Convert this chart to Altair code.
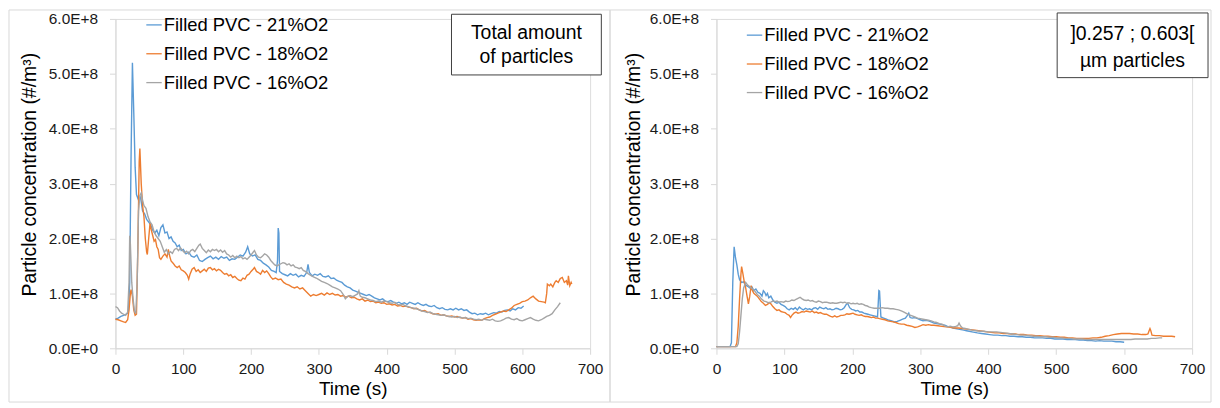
import altair as alt
import pandas as pd

FONT = "Liberation Sans"

SERIES = ["Filled PVC - 21%O2", "Filled PVC - 18%O2", "Filled PVC - 16%O2"]
COLORS = ["#5B9BD5", "#ED7D31", "#A5A5A5"]
X_TICKS = [0, 100, 200, 300, 400, 500, 600, 700]
Y_TICKS_E8 = [0, 1, 2, 3, 4, 5, 6]
X_TITLE = "Time (s)"
Y_TITLE = "Particle concentration (#/m³)"
BOX_LEFT = ["Total amount", "of particles"]
BOX_RIGHT = ["]0.257 ; 0.603[", "µm particles"]

# (time s, concentration in 1E+8 #/m3) - total amount of particles
L21 = [(0,0.53),(4,0.55),(8,0.58),(12,0.6),(16,0.62),(19,0.65),(21,1.2),(23,3.5),(25,5.2),(27,4.3),
       (29,3.3),(31,2.8),(34,2.7),(37,2.75),(40,2.5),(43,2.45),(46,2.35),(49,2.3),(52,2.25),(55,2.15),
       (58,2.1),(61,2.15),(64,2.05),(67,2.2),(70,2.25),(73,2.1),(76,2.12),(79,2.0),(82,2.03),(85,1.95),
       (88,1.92),(91,1.85),(94,1.88),(97,1.78),(100,1.8),(104,1.72),(108,1.75),(112,1.68),(116,1.66),(120,1.7),
       (124,1.6),(128,1.58),(132,1.62),(136,1.65),(140,1.68),(144,1.63),(148,1.66),(152,1.62),(156,1.67),(160,1.64),
       (164,1.66),(168,1.6),(172,1.63),(176,1.62),(180,1.66),(184,1.7),(188,1.68),(192,1.75),(195,1.85),(198,1.72),
       (202,1.68),(206,1.7),(210,1.62),(214,1.6),(218,1.55),(222,1.52),(226,1.48),(230,1.42),(234,1.4),(237,1.38),
       (239,1.6),(240,2.19),(241,2.1),(242,1.4),(246,1.36),(250,1.34),(254,1.32),(258,1.36),(262,1.33),(266,1.35),
       (270,1.3),(274,1.33),(278,1.31),(282,1.38),(284,1.53),(286,1.38),(290,1.32),(294,1.35),(298,1.33),(302,1.36),
       (306,1.31),(310,1.3),(314,1.32),(318,1.27),(322,1.28),(326,1.24),(330,1.22),(334,1.2),(338,1.15),(342,1.12),
       (346,1.1),(350,1.06),(354,1.04),(358,1.02),(362,1.0),(366,0.98),(370,0.96),(374,0.98),(378,0.95),(382,0.92),
       (386,0.9),(390,0.88),(394,0.9),(398,0.86),(402,0.85),(406,0.87),(410,0.84),(414,0.82),(418,0.84),(422,0.81),
       (426,0.83),(430,0.8),(434,0.84),(438,0.82),(442,0.8),(446,0.83),(450,0.8),(454,0.78),(458,0.8),(462,0.77),
       (466,0.76),(470,0.78),(474,0.74),(478,0.72),(482,0.74),(486,0.71),(490,0.7),(494,0.72),(498,0.7),(502,0.73),
       (506,0.7),(510,0.72),(514,0.69),(518,0.7),(522,0.66),(526,0.63),(530,0.64),(534,0.61),(538,0.63),(542,0.62),
       (546,0.64),(550,0.61),(554,0.63),(558,0.65),(562,0.64),(566,0.67),(570,0.66),(574,0.69),(578,0.7),(582,0.68),
       (586,0.72),(590,0.7),(594,0.74),(598,0.73),(602,0.77)]

L18 = [(0,0.53),(4,0.52),(8,0.5),(12,0.48),(15,0.47),(18,0.52),(20,0.7),(22,1.0),(23,1.07),(25,0.95),
       (27,0.7),(29,0.6),(31,0.62),(33,1.8),(35,3.4),(36,3.64),(38,3.0),(40,2.6),(42,2.4),(44,2.0),
       (46,1.75),(47,1.71),(49,2.0),(51,2.28),(53,2.15),(55,2.05),(57,1.95),(59,1.98),(61,1.85),(63,1.8),
       (65,1.65),(67,1.62),(70,1.68),(73,1.72),(76,1.66),(78,1.8),(80,1.68),(82,1.59),(85,1.55),(88,1.5),
       (91,1.47),(94,1.5),(97,1.43),(100,1.41),(103,1.38),(106,1.33),(108,1.26),(110,1.35),(113,1.44),(116,1.47),
       (119,1.4),(122,1.43),(125,1.38),(128,1.41),(131,1.44),(134,1.4),(137,1.46),(140,1.47),(143,1.43),(146,1.45),
       (149,1.41),(152,1.44),(155,1.42),(158,1.38),(161,1.35),(164,1.36),(167,1.32),(170,1.34),(173,1.29),(176,1.31),
       (179,1.27),(182,1.24),(185,1.23),(188,1.28),(191,1.26),(194,1.33),(197,1.35),(200,1.4),(203,1.44),(205,1.47),
       (208,1.4),(211,1.38),(214,1.35),(217,1.42),(220,1.38),(223,1.41),(226,1.36),(229,1.3),(232,1.26),(236,1.28),
       (240,1.25),(244,1.26),(248,1.2),(252,1.17),(256,1.15),(260,1.12),(264,1.1),(268,1.12),(272,1.08),(276,1.1),
       (280,1.05),(284,1.0),(288,0.95),(292,0.98),(296,0.96),(300,0.98),(304,1.0),(308,0.97),(312,1.01),(316,0.98),
       (320,1.0),(324,0.97),(328,0.98),(332,0.95),(336,0.96),(340,0.93),(344,0.95),(348,0.92),(352,0.93),(356,0.9),
       (360,0.88),(364,0.9),(368,0.86),(372,0.88),(376,0.85),(380,0.86),(384,0.83),(388,0.84),(392,0.82),(396,0.83),
       (400,0.8),(404,0.81),(408,0.79),(412,0.8),(416,0.77),(420,0.78),(424,0.76),(428,0.77),(432,0.75),(436,0.74),
       (440,0.72),(444,0.73),(448,0.7),(452,0.68),(456,0.69),(460,0.66),(464,0.65),(468,0.63),(472,0.62),(476,0.63),
       (480,0.6),(484,0.61),(488,0.59),(492,0.58),(496,0.59),(500,0.57),(504,0.58),(508,0.56),(512,0.55),(516,0.56),
       (520,0.53),(524,0.54),(528,0.52),(532,0.51),(536,0.52),(540,0.51),(544,0.54),(548,0.56),(552,0.57),(556,0.6),
       (560,0.62),(564,0.64),(568,0.66),(572,0.68),(576,0.67),(580,0.7),(584,0.73),(588,0.78),(592,0.8),(596,0.82),
       (600,0.85),(604,0.86),(608,0.88),(612,0.92),(616,0.95),(620,0.9),(624,0.86),(628,0.85),(632,0.84),(634,0.83),
       (636,1.0),(637,1.17),(640,1.14),(642,1.17),(645,1.12),(648,1.2),(650,1.23),(653,1.2),(656,1.27),(659,1.29),
       (662,1.2),(665,1.23),(667,1.15),(668,1.32),(670,1.14),(672,1.2),(673,1.17)]

L16 = [(0,0.76),(3,0.74),(6,0.68),(9,0.64),(12,0.62),(15,0.6),(18,0.66),(20,1.2),(21,2.05),(22,1.9),
       (24,1.2),(26,0.9),(28,0.68),(30,0.63),(32,1.2),(34,2.5),(36,2.78),(38,2.83),(40,2.7),(42,2.6),
       (45,2.55),(48,2.4),(51,2.3),(54,2.25),(57,2.12),(60,2.05),(63,2.0),(66,1.95),(69,1.85),(72,1.75),
       (75,1.8),(78,1.72),(81,1.76),(84,1.73),(87,1.8),(90,1.82),(93,1.78),(96,1.83),(99,1.78),(102,1.74),
       (105,1.77),(108,1.72),(111,1.78),(114,1.8),(117,1.76),(120,1.82),(123,1.88),(125,1.9),(128,1.82),(131,1.78),
       (134,1.74),(137,1.79),(140,1.76),(143,1.8),(146,1.78),(149,1.8),(152,1.76),(155,1.79),(158,1.75),(161,1.78),
       (164,1.72),(167,1.7),(170,1.66),(173,1.69),(176,1.65),(179,1.68),(182,1.65),(185,1.67),(188,1.63),(191,1.65),
       (194,1.62),(197,1.66),(200,1.7),(203,1.75),(205,1.78),(208,1.7),(211,1.66),(214,1.65),(217,1.68),(220,1.72),
       (223,1.7),(226,1.66),(229,1.6),(232,1.56),(235,1.52),(238,1.5),(241,1.52),(244,1.54),(247,1.56),(250,1.55),
       (253,1.52),(256,1.54),(259,1.5),(262,1.52),(265,1.48),(268,1.47),(271,1.45),(274,1.47),(277,1.42),(280,1.4),
       (284,1.36),(288,1.33),(292,1.3),(296,1.28),(300,1.25),(304,1.22),(308,1.2),(312,1.18),(316,1.15),(320,1.12),
       (324,1.1),(328,1.08),(332,1.05),(336,0.98),(339,0.9),(342,0.94),(346,0.96),(350,0.94),(354,0.97),(357,0.99),
       (359,1.05),(361,0.95),(364,0.93),(368,0.92),(372,0.9),(376,0.88),(380,0.87),(384,0.85),(388,0.86),(392,0.84),
       (396,0.86),(400,0.85),(404,0.83),(408,0.82),(412,0.84),(416,0.8),(420,0.79),(424,0.8),(428,0.77),(432,0.76),
       (436,0.74),(440,0.73),(444,0.72),(448,0.7),(452,0.68),(456,0.67),(460,0.65),(464,0.66),(468,0.63),(472,0.62),
       (476,0.61),(480,0.6),(484,0.61),(488,0.59),(492,0.58),(496,0.57),(500,0.58),(504,0.56),(508,0.57),(512,0.55),
       (516,0.56),(520,0.54),(524,0.55),(528,0.53),(532,0.52),(536,0.53),(540,0.51),(544,0.53),(548,0.52),(552,0.51),
       (556,0.53),(560,0.5),(564,0.49),(568,0.5),(572,0.52),(576,0.55),(580,0.56),(584,0.53),(588,0.52),(592,0.54),
       (596,0.51),(600,0.5),(604,0.52),(608,0.54),(612,0.56),(616,0.53),(620,0.51),(624,0.5),(628,0.52),(632,0.55),
       (636,0.58),(640,0.6),(644,0.63),(648,0.7),(652,0.76),(656,0.83)]

# ]0.257 ; 0.603[ um particles
R21 = [(0,0.03),(10,0.03),(20,0.03),(22,0.1),(24,1.2),(26,1.85),(28,1.65),(30,1.52),(32,1.35),(34,1.25),
       (37,1.2),(40,1.21),(43,1.15),(46,1.13),(49,1.1),(52,1.12),(55,1.05),(58,1.08),(61,1.02),(64,1.0),
       (67,0.95),(69,1.05),(71,1.02),(73,0.96),(75,1.0),(77,0.92),(80,0.95),(83,0.88),(86,0.84),(89,0.82),
       (92,0.84),(95,0.8),(98,0.78),(101,0.76),(104,0.72),(107,0.7),(110,0.73),(113,0.71),(116,0.74),(119,0.7),
       (122,0.75),(125,0.72),(128,0.7),(131,0.73),(134,0.71),(137,0.72),(140,0.7),(143,0.73),(146,0.74),(149,0.71),
       (152,0.75),(155,0.73),(158,0.72),(161,0.74),(164,0.71),(167,0.72),(170,0.7),(173,0.71),(176,0.73),(179,0.72),
       (182,0.7),(185,0.71),(188,0.74),(191,0.8),(193,0.82),(196,0.74),(199,0.71),(202,0.7),(205,0.68),(208,0.69),
       (211,0.66),(214,0.66),(217,0.64),(220,0.63),(223,0.62),(226,0.61),(229,0.6),(232,0.59),(235,0.58),(237,0.57),
       (238,0.8),(239,1.05),(240,1.04),(241,0.8),(242,0.57),(246,0.55),(250,0.53),(254,0.51),(258,0.5),(262,0.48),
       (266,0.49),(270,0.51),(274,0.53),(278,0.55),(281,0.6),(283,0.64),(285,0.56),(288,0.55),(292,0.56),(296,0.54),
       (300,0.52),(304,0.5),(308,0.51),(312,0.5),(316,0.48),(320,0.46),(324,0.45),(328,0.44),(332,0.43),(336,0.42),
       (340,0.4),(344,0.39),(348,0.37),(352,0.36),(356,0.35),(360,0.34),(364,0.33),(368,0.32),(372,0.31),(376,0.3),
       (380,0.29),(384,0.28),(390,0.27),(396,0.26),(402,0.25),(408,0.24),(414,0.24),(420,0.23),(426,0.23),(432,0.22),
       (438,0.22),(444,0.21),(450,0.21),(456,0.2),(462,0.2),(468,0.19),(474,0.19),(480,0.19),(486,0.18),(492,0.18),
       (498,0.17),(504,0.17),(510,0.17),(516,0.16),(522,0.16),(528,0.16),(534,0.15),(540,0.15),(546,0.14),(552,0.14),
       (558,0.13),(564,0.14),(570,0.13),(576,0.13),(582,0.13),(588,0.12),(594,0.12),(600,0.11)]

R18 = [(0,0.03),(10,0.03),(20,0.03),(28,0.03),(30,0.1),(32,0.4),(34,0.9),(36,1.35),(37,1.49),(39,1.35),
       (41,1.2),(43,1.1),(45,0.95),(47,0.81),(49,0.95),(51,1.14),(53,1.05),(55,1.0),(57,0.98),(60,0.95),
       (63,0.9),(66,0.85),(69,0.82),(72,0.78),(75,0.8),(78,0.83),(80,0.81),(83,0.76),(86,0.72),(89,0.69),
       (92,0.7),(95,0.67),(98,0.66),(101,0.65),(104,0.62),(107,0.6),(109,0.56),(111,0.6),(114,0.64),(117,0.66),
       (120,0.64),(123,0.65),(126,0.67),(129,0.66),(132,0.68),(135,0.67),(138,0.66),(141,0.68),(144,0.65),(147,0.66),
       (150,0.64),(153,0.65),(156,0.63),(159,0.62),(162,0.62),(165,0.6),(168,0.58),(171,0.57),(174,0.59),(177,0.57),
       (180,0.58),(183,0.6),(186,0.6),(189,0.61),(192,0.63),(195,0.62),(198,0.63),(201,0.64),(204,0.62),(207,0.61),
       (210,0.6),(213,0.61),(216,0.59),(219,0.58),(222,0.58),(225,0.57),(228,0.56),(231,0.57),(234,0.55),(237,0.55),
       (240,0.54),(244,0.53),(248,0.52),(252,0.5),(256,0.49),(260,0.48),(264,0.47),(268,0.45),(272,0.44),(276,0.44),
       (280,0.42),(284,0.41),(288,0.4),(292,0.38),(296,0.39),(300,0.41),(304,0.43),(308,0.42),(312,0.43),(316,0.42),
       (320,0.42),(326,0.41),(332,0.4),(338,0.39),(344,0.38),(350,0.37),(356,0.37),(362,0.36),(368,0.35),(374,0.34),
       (380,0.33),(386,0.32),(392,0.31),(398,0.3),(404,0.29),(410,0.28),(416,0.28),(422,0.27),(428,0.27),(434,0.26),
       (440,0.26),(446,0.25),(452,0.25),(458,0.24),(464,0.24),(470,0.23),(476,0.23),(482,0.22),(488,0.22),(494,0.21),
       (500,0.21),(506,0.2),(512,0.2),(518,0.19),(524,0.19),(530,0.18),(536,0.18),(542,0.18),(548,0.18),(554,0.19),
       (560,0.19),(566,0.2),(572,0.22),(578,0.23),(584,0.25),(590,0.26),(596,0.27),(602,0.27),(608,0.27),(614,0.26),
       (620,0.26),(626,0.25),(632,0.25),(635,0.26),(637,0.33),(638,0.36),(639,0.33),(641,0.24),(646,0.23),(652,0.23),
       (658,0.22),(664,0.22),(670,0.22),(675,0.21)]

R16 = [(0,0.03),(10,0.03),(20,0.03),(30,0.03),(32,0.08),(34,0.3),(36,0.6),(38,0.9),(40,1.1),(43,1.2),
       (46,1.15),(50,1.11),(53,1.08),(56,1.05),(60,0.98),(63,0.95),(66,0.9),(70,0.86),(73,0.85),(76,0.83),
       (80,0.84),(83,0.86),(86,0.85),(89,0.86),(92,0.84),(95,0.85),(99,0.84),(102,0.86),(105,0.85),(108,0.86),
       (111,0.88),(114,0.87),(117,0.89),(120,0.91),(123,0.93),(126,0.9),(129,0.88),(132,0.87),(135,0.88),(138,0.86),
       (141,0.87),(144,0.85),(147,0.84),(150,0.86),(153,0.85),(156,0.83),(159,0.84),(162,0.84),(165,0.83),(168,0.82),
       (171,0.83),(174,0.82),(177,0.82),(180,0.83),(183,0.84),(186,0.83),(189,0.84),(192,0.82),(195,0.83),(198,0.81),
       (201,0.82),(204,0.81),(207,0.82),(210,0.8),(213,0.81),(216,0.8),(219,0.78),(222,0.77),(225,0.75),(228,0.74),
       (232,0.73),(236,0.73),(240,0.73),(244,0.74),(248,0.73),(252,0.73),(256,0.72),(260,0.72),(264,0.71),(268,0.7),
       (272,0.68),(276,0.66),(280,0.63),(284,0.61),(288,0.59),(292,0.57),(296,0.55),(300,0.54),(304,0.53),(308,0.52),
       (312,0.51),(316,0.5),(320,0.48),(324,0.47),(328,0.45),(332,0.44),(336,0.41),(340,0.39),(344,0.4),(348,0.39),
       (352,0.4),(355,0.41),(357,0.46),(359,0.41),(362,0.37),(366,0.36),(370,0.35),(376,0.33),(382,0.32),(388,0.31),
       (394,0.31),(400,0.3),(406,0.3),(412,0.3),(418,0.29),(424,0.28),(430,0.27),(436,0.26),(442,0.25),(448,0.24),
       (454,0.24),(460,0.23),(466,0.22),(472,0.22),(478,0.21),(484,0.21),(490,0.2),(496,0.2),(502,0.19),(508,0.19),
       (514,0.18),(520,0.18),(526,0.17),(532,0.17),(538,0.17),(544,0.16),(550,0.16),(556,0.16),(562,0.16),(568,0.16),
       (574,0.16),(580,0.16),(586,0.16),(592,0.16),(598,0.16),(604,0.16),(610,0.16),(616,0.17),(622,0.17),(628,0.17),
       (634,0.17),(640,0.18),(646,0.18),(652,0.19),(656,0.19)]


def series_df(pairs):
    return pd.DataFrame({"t": [p[0] for p in pairs], "v": [p[1] * 1e8 for p in pairs]})


ONE = pd.DataFrame({"a": [0]})

x_axis = alt.Axis(values=X_TICKS, title=X_TITLE, grid=False, domainColor="#d9d9d9",
                  tickColor="#d9d9d9", tickSize=6, labelFontSize=15.5, labelFont=FONT,
                  labelColor="#1a1a1a", labelPadding=7, labelFlush=False,
                  titleFont=FONT, titleFontSize=19, titleFontWeight="normal",
                  titleColor="#000000", titleY=40, titleBaseline="middle")


def y_axis(title_x):
    return alt.Axis(values=[v * 1e8 for v in Y_TICKS_E8], grid=False, domainColor="#d9d9d9",
                    tickColor="#d9d9d9", tickSize=6, labelFontSize=15.5, labelFont=FONT,
                    labelColor="#1a1a1a", labelPadding=12, labelFlush=False,
                    labelExpr="datum.value == 0 ? '0.0E+0' : format(datum.value / 1e8, '.1f') + 'E+8'",
                    title=Y_TITLE, titleFont=FONT, titleFontSize=19.5, titleFontWeight="normal",
                    titleColor="#000000", titleX=title_x, titleY=156, titleAngle=270,
                    titleAlign="center", titleBaseline="middle")


def panel(series_lists, width, frame, box, box_text, text_x, text_ys, leg_x, leg_ys, ytitle_x):
    layers = []
    layers.append(alt.Chart(ONE).mark_rect(fill="transparent", stroke="#d9d9d9", strokeWidth=1).encode(
        x=alt.value(frame[0]), x2=alt.value(frame[1]), y=alt.value(frame[2]), y2=alt.value(frame[3])))
    layers.append(alt.Chart(ONE).mark_rect(fill="white", stroke="#404040", strokeWidth=1).encode(
        x=alt.value(box[0]), x2=alt.value(box[1]), y=alt.value(box[2]), y2=alt.value(box[3])))
    for line_txt, ty in zip(box_text, text_ys):
        layers.append(alt.Chart(ONE).mark_text(font=FONT, fontSize=19.5, color="#000000",
                                               align="center", baseline="middle").encode(
            x=alt.value(text_x), y=alt.value(ty), text=alt.value(line_txt)))
    yax = y_axis(ytitle_x)
    for pairs, col in zip(series_lists, COLORS):
        layers.append(alt.Chart(series_df(pairs)).mark_line(color=col, strokeWidth=1.4).encode(
            x=alt.X("t:Q", scale=alt.Scale(domain=[0, 700], nice=False), axis=x_axis),
            y=alt.Y("v:Q", scale=alt.Scale(domain=[0, 6e8], nice=False), axis=yax)))
    for name, col, ly in zip(SERIES, COLORS, leg_ys):
        layers.append(alt.Chart(ONE).mark_rule(color=col, strokeWidth=1.3).encode(
            x=alt.value(leg_x), x2=alt.value(leg_x + 15.5), y=alt.value(ly)))
        layers.append(alt.Chart(ONE).mark_text(font=FONT, fontSize=18.5, color="#000000",
                                               align="left", baseline="middle").encode(
            x=alt.value(leg_x + 17.5), y=alt.value(ly), text=alt.value(name)))
    return alt.layer(*layers).properties(width=width, height=331)


left = panel([L21, L18, L16], 477, (-107, 497, -9, 385), (337.7, 488.3, -4.7, 56.3),
             BOX_LEFT, 413, [14.2, 38.5], 31, [6, 35, 64], -86)
right = panel([R21, R18, R16], 478, (-107, 497, -9, 385), (342.4, 494, -6, 59),
              BOX_RIGHT, 418, [15, 42.3], 30.5, [16.3, 45.3, 74], -83)

chart = alt.hconcat(left, right, spacing=127, bounds="flush").properties(
    padding=0
).configure_view(stroke=None).configure(font=FONT)

chart.save("out.html", embed_options={"renderer": "svg", "actions": False})
